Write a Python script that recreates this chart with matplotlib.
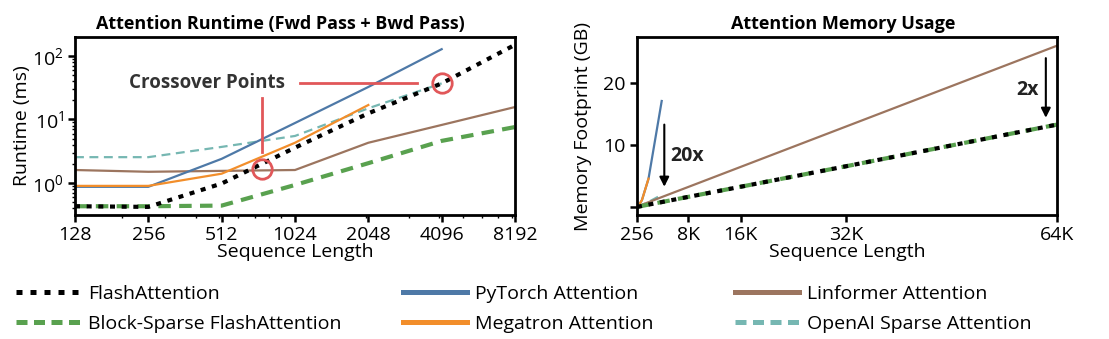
import numpy as np
import matplotlib.pyplot as plt
from matplotlib.lines import Line2D
from matplotlib.ticker import LogLocator, FixedLocator, NullFormatter, FixedFormatter

plt.rcParams['font.family'] = ['Open Sans', 'DejaVu Sans']
plt.rcParams['font.size'] = 14

# colours (tableau 10)
C_BLUE = '#4e79a7'
C_ORANGE = '#f28e2b'
C_RED = '#e15759'
C_TEAL = '#76b7b2'
C_GREEN = '#59a14f'
C_BROWN = '#9c755f'

# runtime (ms), forward + backward
seq_runtime = [128, 256, 512, 1024, 2048, 4096, 8192]
rt_flash = [0.43, 0.42, 0.98, 3.6, 12.5, 37, 150]
rt_block_sparse = [0.43, 0.43, 0.44, 0.93, 2.05, 4.6, 7.6]
rt_pytorch = [0.87, 0.87, 2.4, 8.8, 32.5, 128]
rt_megatron = [0.9, 0.9, 1.4, 4.3, 16.9]
rt_linformer = [1.6, 1.5, 1.55, 1.6, 4.3, 8.2, 15.7]
rt_openai = [2.55, 2.55, 3.7, 5.5, 15, 37]

# memory footprint (GB)
seq_memory = [256, 512, 1024, 2048, 4096, 8192, 16384, 32768, 65536]
mem_flash = [0.05, 0.1, 0.21, 0.42, 0.83, 1.66, 3.3, 6.6, 13.3]
mem_block_sparse = [0.05, 0.1, 0.21, 0.42, 0.83, 1.66, 3.3, 6.6, 13.3]
mem_pytorch = [0.07, 0.29, 1.15, 4.6, 17.1]
mem_megatron = [0.07, 0.29, 1.15, 4.6]
mem_linformer = [0.1, 0.2, 0.4, 0.81, 1.63, 3.25, 6.5, 13.0, 26.0]
mem_openai = [0.06, 0.14, 0.35, 0.85, 2.0]

runtime_ticks = [128, 256, 512, 1024, 2048, 4096, 8192]
memory_ticks = [256, 8192, 16384, 32768, 65536]
memory_tick_labels = ['256', '8K', '16K', '32K', '64K']

DOT = (0, (1.2, 1.6))
DASH_THICK = (0, (3, 2))
DASH_THIN = (0, (4, 2.5))

fig = plt.figure(figsize=(11.09, 3.39), dpi=100)
ax1 = fig.add_axes([75 / 1109, 124 / 339, 440 / 1109, 178 / 339])
ax2 = fig.add_axes([637 / 1109, 124 / 339, 420 / 1109, 178 / 339])

for ax in (ax1, ax2):
    for s in ax.spines.values():
        s.set_linewidth(2)
    ax.tick_params(which='major', direction='out', length=5, width=1.8, pad=3, labelsize=14)
    ax.tick_params(which='minor', direction='out', length=2.5, width=1)

# runtime panel
ax1.plot(seq_runtime[:len(rt_openai)], rt_openai, color=C_TEAL, lw=1.6, ls=DASH_THIN)
ax1.plot(seq_runtime, rt_linformer, color=C_BROWN, lw=1.6)
ax1.plot(seq_runtime[:len(rt_pytorch)], rt_pytorch, color=C_BLUE, lw=1.6)
ax1.plot(seq_runtime[:len(rt_megatron)], rt_megatron, color=C_ORANGE, lw=1.6)
ax1.plot(seq_runtime, rt_block_sparse, color=C_GREEN, lw=3, ls=DASH_THICK)
ax1.plot(seq_runtime, rt_flash, color='black', lw=3, ls=DOT)

ax1.set_xscale('log', base=2)
ax1.set_yscale('log')
ax1.set_xlim(128, 8192)
ax1.set_ylim(0.313, 199)
ax1.xaxis.set_major_locator(FixedLocator(runtime_ticks))
ax1.xaxis.set_major_formatter(FixedFormatter([str(t) for t in runtime_ticks]))
ax1.xaxis.set_minor_locator(LogLocator(base=10, subs=np.arange(2, 10)))
ax1.xaxis.set_minor_formatter(NullFormatter())
ax1.yaxis.set_minor_locator(LogLocator(base=10, subs=np.arange(2, 10)))
ax1.yaxis.set_minor_formatter(NullFormatter())
ax1.set_xlabel('Sequence Length', fontsize=14, labelpad=-1)
ax1.set_ylabel('Runtime (ms)', fontsize=14, labelpad=1)
ax1.set_title('Attention Runtime (Fwd Pass + Bwd Pass)', fontsize=13, fontweight='bold',
              pad=6, x=0.467)

# crossover markers
ax1.plot([750], [1.66], 'o', ms=14, mfc='none', mec=C_RED, mew=2)
ax1.plot([4096], [37], 'o', ms=14, mfc='none', mec=C_RED, mew=2)
ax1.plot([750, 750], [3.1, 21.8], color=C_RED, lw=2)
ax1.plot([1070, 3250], [37.6, 37.6], color=C_RED, lw=2)
ax1.text(445, 37.6, 'Crossover Points', fontsize=13.5, fontweight='bold',
         color='#333333', ha='center', va='center')

# memory panel
ax2.plot(seq_memory[:len(mem_openai)], mem_openai, color=C_TEAL, lw=1.6, ls=DASH_THIN)
ax2.plot(seq_memory, mem_linformer, color=C_BROWN, lw=1.6)
ax2.plot(seq_memory[:len(mem_pytorch)], mem_pytorch, color=C_BLUE, lw=1.6)
ax2.plot(seq_memory[:len(mem_megatron)], mem_megatron, color=C_ORANGE, lw=1.6)
ax2.plot(seq_memory, mem_block_sparse, color=C_GREEN, lw=3, ls=DASH_THICK)
ax2.plot(seq_memory, mem_flash, color='black', lw=3, ls=DOT)

ax2.set_xlim(256, 65536)
ax2.set_ylim(-1.25, 27.4)
ax2.set_xticks(memory_ticks)
ax2.set_xticklabels(memory_tick_labels)
ax2.set_yticks([0, 10, 20])
ax2.set_yticklabels(['', '10', '20'])
ax2.set_xlabel('Sequence Length', fontsize=14, labelpad=-1)
ax2.set_ylabel('Memory Footprint (GB)', fontsize=14, labelpad=8)
ax2.set_title('Attention Memory Usage', fontsize=13, fontweight='bold', pad=6, x=0.49)

arrow = dict(arrowstyle='-|>', lw=1.5, color='black', mutation_scale=14, shrinkA=0, shrinkB=0)
ax2.annotate('', xy=(4500, 3.3), xytext=(4500, 13.3), arrowprops=arrow)
ax2.text(5400, 8.3, '20x', fontsize=14, fontweight='bold', color='#222222', va='center')
ax2.annotate('', xy=(63800, 14.4), xytext=(63800, 24), arrowprops=arrow)
ax2.text(62700, 18.9, '2x', fontsize=14, fontweight='bold', color='#222222', va='center', ha='right')

# legend, three columns
def handle(color, ls):
    return Line2D([], [], color=color, lw=3.6, ls=ls)

legend_cols = [
    (16, [handle('black', (0, (1.2, 1.6))), handle(C_GREEN, (0, (2.2, 1.3)))],
     ['FlashAttention', 'Block-Sparse FlashAttention']),
    (403, [handle(C_BLUE, '-'), handle(C_ORANGE, '-')],
     ['PyTorch Attention', 'Megatron Attention']),
    (735, [handle(C_BROWN, '-'), handle(C_TEAL, (0, (2.2, 1.3)))],
     ['Linformer Attention', 'OpenAI Sparse Attention']),
]
for x_px, hs, labels in legend_cols:
    fig.legend(hs, labels, loc='upper left', bbox_to_anchor=(x_px / 1109, 1 - 285 / 339),
               frameon=False, fontsize=14, handlelength=3.3, handletextpad=0.4,
               labelspacing=0.6, borderpad=0, borderaxespad=0)

fig.savefig('out.png', dpi=100)
